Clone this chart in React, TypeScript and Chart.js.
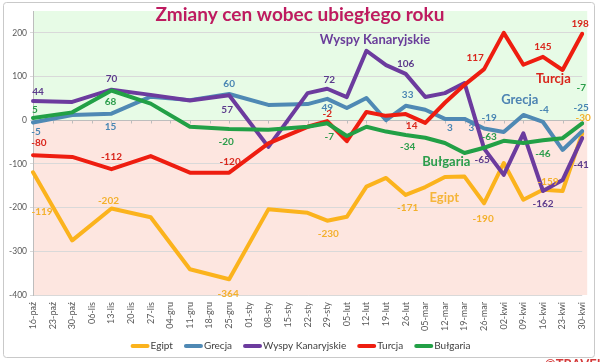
import React, { useEffect, useRef } from 'react';
import { Chart, registerables } from 'chart.js';

Chart.register(...registerables);

const categories = [
  '16-paź', '23-paź', '30-paź', '06-lis', '13-lis', '20-lis', '27-lis', '04-gru', '11-gru', '18-gru',
  '25-gru', '01-sty', '08-sty', '15-sty', '22-sty', '29-sty', '05-lut', '12-lut', '19-lut', '26-lut',
  '05-mar', '12-mar', '19-mar', '26-mar', '02-kwi', '09-kwi', '16-kwi', '23-kwi', '30-kwi',
];

const egipt = [-119, null, -275, null, -202, null, -222, null, -341, null, -364, null, -204, null, -212, -230, -221, -152, -132, -171, -153, -130, -129, -190, -98, -182, -159, -162, -30];
const grecja = [-5, null, 12, null, 15, null, 54, null, 46, null, 60, null, 35, null, 37, 49, 28, 51, 0, 33, 24, 3, 3, -19, -27, 12, -4, -68, -25];
const wyspy = [44, null, 42, null, 70, null, 58, null, 45, null, 57, null, -61, null, 62, 72, 53, 159, 126, 106, 53, 62, 85, -65, -125, -30, -162, -137, -41];
const turcja = [-80, null, -84, null, -112, null, -82, null, -120, null, -120, null, -53, null, -15, -2, -48, 19, 10, 14, -6, 40, 81, 117, 200, 127, 145, 115, 198];
const bulgaria = [5, null, 18, null, 68, null, 38, null, -15, null, -20, null, -22, null, -15, -7, -36, -15, -26, -34, -40, -52, -75, -63, -47, -52, -46, -41, -7];

const yTicks = [200, 100, 0, -100, -200, -300, -400];

const seriesNames = ['Egipt', 'Grecja', 'Wyspy Kanaryjskie', 'Turcja', 'Bułgaria'];
const seriesData = [egipt, grecja, wyspy, turcja, bulgaria];
const lineColors = ['#fbb31d', '#4f89b4', '#6c3b9e', '#ee1d10', '#22a046'];
const labelColors = ['#f3b02c', '#4a86b3', '#5c3b8c', '#d9261c', '#2b9d4b'];
const nameColors = ['#f5b53a', '#4e84b3', '#6a3d9a', '#d9261c', '#2b9d4b'];

// data-label placement: [category index, dx, dy]
const egiptLabels = [[0, 9, 40], [4, -3, -8], [10, -1, 15], [15, 1, 13], [19, 2, 13], [23, -1, 16], [26, 5, -8], [28, 1, -16]];
const grecjaLabels = [[0, 3, 9], [4, -1, 13], [10, 0, -10], [15, 0, 9], [19, 2, -11], [21, 5, 9], [22, 7, 9], [23, 5, -11], [26, 1, -12], [28, -1, -23]];
const wyspyLabels = [[0, 5, -9], [4, 0, -11], [10, -2, 14], [15, 2, -9], [19, 0, -10], [23, -2, 11], [26, 0, 13], [28, -1, 27]];
const turcjaLabels = [[0, 6, -12], [4, 0, -12], [10, 1, -11], [15, 0, -7], [19, 6, 12], [23, -9, -11], [26, 0, -10], [28, -2, -10]];
const bulgariaLabels = [[0, 2, -8], [4, -1, 11], [10, -3, 13], [15, 2, 13], [19, 2, 12], [23, 5, -11], [26, 0, 13], [28, -1, -36]];
const labelSpots = [egiptLabels, grecjaLabels, wyspyLabels, turcjaLabels, bulgariaLabels];

// series-name annotations: [category position, value]
const namePositions = [[20.97, -178], [24.82, 46], [17.44, 184], [26.53, 94], [21.07, -96]];

const titleText = 'Zmiany cen wobec ubiegłego roku';
const FONT = 'Lato, "Open Sans", sans-serif';

function roundRect(ctx: CanvasRenderingContext2D, x: number, y: number, w: number, h: number, r: number) {
  ctx.beginPath();
  ctx.moveTo(x + r, y);
  ctx.lineTo(x + w - r, y);
  ctx.arcTo(x + w, y, x + w, y + r, r);
  ctx.lineTo(x + w, y + h - r);
  ctx.arcTo(x + w, y + h, x + w - r, y + h, r);
  ctx.lineTo(x + r, y + h);
  ctx.arcTo(x, y + h, x, y + h - r, r);
  ctx.lineTo(x, y + r);
  ctx.arcTo(x, y, x + r, y, r);
  ctx.closePath();
}

const decor = {
  id: 'decor',
  beforeDraw(chart: any) {
    const { ctx, chartArea: a, scales } = chart;
    const y0 = scales.y.getPixelForValue(0);
    ctx.save();
    ctx.fillStyle = '#ffffff';
    ctx.fillRect(0, 0, chart.width, chart.height);
    ctx.strokeStyle = '#c9c9c9';
    ctx.lineWidth = 1;
    roundRect(ctx, 3.5, 2.5, 591, 355, 3);
    ctx.stroke();
    ctx.fillStyle = '#e7fbe6';
    ctx.fillRect(a.left, a.top, a.right + 5 - a.left, y0 - a.top);
    ctx.fillStyle = '#fde6e0';
    ctx.fillRect(a.left, y0, a.right + 5 - a.left, a.bottom - y0);
    ctx.restore();
  },
  beforeDatasetsDraw(chart: any) {
    const { ctx, chartArea: a, scales } = chart;
    const y0 = Math.round(scales.y.getPixelForValue(0)) + 0.5;
    ctx.save();
    ctx.strokeStyle = '#bdbdbd';
    ctx.lineWidth = 1;
    ctx.beginPath();
    ctx.moveTo(a.left, y0);
    ctx.lineTo(a.right, y0);
    categories.forEach((_, i) => {
      const x = Math.round(scales.x.getPixelForValue(i)) + 0.5;
      ctx.moveTo(x, y0);
      ctx.lineTo(x, y0 + 3);
    });
    ctx.stroke();
    ctx.restore();
  },
  afterDatasetsDraw(chart: any) {
    const { ctx, scales } = chart;
    ctx.save();
    ctx.textAlign = 'center';
    ctx.textBaseline = 'middle';
    ctx.font = `bold 10px ${FONT}`;
    labelSpots.forEach((spots, s) => {
      const meta = chart.getDatasetMeta(s);
      ctx.fillStyle = labelColors[s];
      spots.forEach(([i, dx, dy]) => {
        const pt = meta.data[i];
        const v = seriesData[s][i];
        if (!pt || v === null) return;
        ctx.fillText(String(v), pt.x + dx, pt.y + dy);
      });
    });
    ctx.font = `bold 13px ${FONT}`;
    namePositions.forEach(([xi, yv], s) => {
      ctx.fillStyle = nameColors[s];
      ctx.fillText(seriesNames[s], scales.x.getPixelForValue(xi), scales.y.getPixelForValue(yv));
    });
    ctx.restore();
  },
  afterDraw(chart: any) {
    const { ctx } = chart;
    ctx.save();
    // title
    ctx.font = `bold 19px ${FONT}`;
    ctx.fillStyle = '#be1b60';
    ctx.textAlign = 'center';
    ctx.textBaseline = 'middle';
    ctx.fillText(titleText, 300, 15);
    // legend
    ctx.font = `10px ${FONT}`;
    const sample = 17;
    const gapIn = 2;
    const gapOut = 12;
    const widths = seriesNames.map((n) => ctx.measureText(n).width);
    const total = widths.reduce((acc, w) => acc + sample + gapIn + w, 0) + gapOut * (seriesNames.length - 1);
    let x = 301 - total / 2;
    const ly = 346;
    ctx.textAlign = 'left';
    seriesNames.forEach((n, s) => {
      ctx.strokeStyle = lineColors[s];
      ctx.lineWidth = 4;
      ctx.lineCap = 'round';
      ctx.beginPath();
      ctx.moveTo(x + 1, ly);
      ctx.lineTo(x + sample - 1, ly);
      ctx.stroke();
      x += sample + gapIn;
      ctx.fillStyle = '#404040';
      ctx.fillText(n, x, ly);
      x += widths[s] + gapOut;
    });
    // watermark (cut off at the bottom)
    ctx.font = `bold 13px ${FONT}`;
    ctx.fillStyle = '#d43a3a';
    ctx.textAlign = 'left';
    ctx.textBaseline = 'top';
    ctx.fillText('©TRAVELPLANET', 545, 358);
    ctx.restore();
  },
};

export default function App() {
  const ref = useRef<HTMLCanvasElement | null>(null);

  useEffect(() => {
    document.body.style.margin = '0';
    const canvas = ref.current;
    if (!canvas) return;
    const order = [5, 4, 3, 2, 1];
    const chart = new Chart(canvas, {
      type: 'line',
      data: {
        labels: categories,
        datasets: seriesNames.map((name, s) => ({
          label: name,
          data: seriesData[s],
          borderColor: lineColors[s],
          backgroundColor: lineColors[s],
          borderWidth: 4,
          pointRadius: 0,
          pointHoverRadius: 0,
          tension: 0,
          spanGaps: true,
          fill: false,
          borderJoinStyle: 'round',
          borderCapStyle: 'round',
          order: order[s],
        })),
      },
      options: {
        responsive: false,
        animation: false,
        events: [],
        layout: { padding: { left: 0, right: 13, top: 11, bottom: 0 } },
        plugins: {
          legend: { display: false },
          title: { display: false },
          tooltip: { enabled: false },
        },
        scales: {
          x: {
            type: 'category',
            offset: false,
            grid: { display: false, drawTicks: false },
            border: { display: false },
            ticks: {
              autoSkip: false,
              maxRotation: 90,
              minRotation: 90,
              padding: 7,
              color: '#595959',
              font: { family: FONT, size: 9 },
            },
            afterFit(scale: any) {
              scale.height = 67;
            },
          },
          y: {
            type: 'linear',
            min: -400,
            max: 250,
            afterBuildTicks(scale: any) {
              scale.ticks = yTicks.map((v) => ({ value: v }));
            },
            grid: {
              color: '#d9d9d9',
              lineWidth: 1,
              tickLength: 3,
            },
            border: { display: true, color: '#bdbdbd' },
            ticks: {
              padding: 3,
              color: '#595959',
              font: { family: FONT, size: 8.5 },
            },
            afterFit(scale: any) {
              scale.width = 33;
            },
          },
        },
      },
      plugins: [decor],
    } as any);
    return () => chart.destroy();
  }, []);

  return (
    <div style={{ width: 600, height: 362 }}>
      <canvas ref={ref} width={600} height={362} style={{ display: 'block', width: 600, height: 362 }} />
    </div>
  );
}
